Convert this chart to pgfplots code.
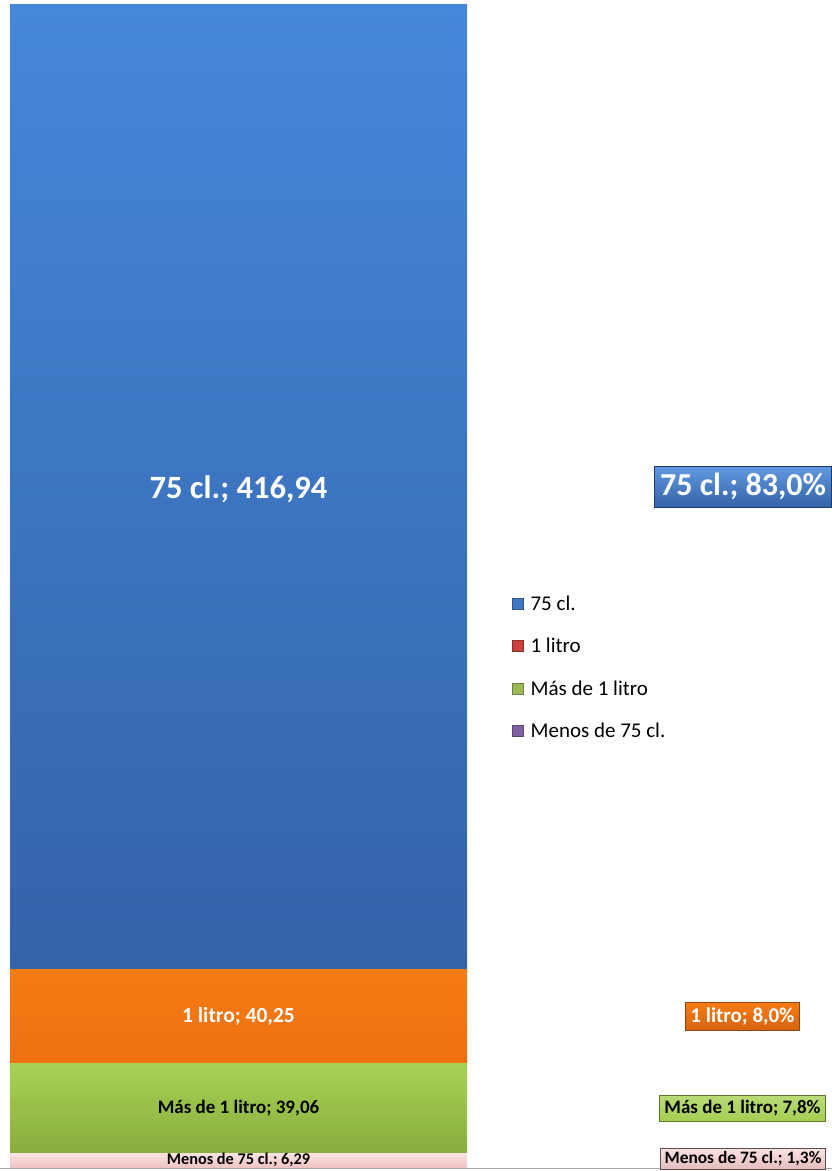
\documentclass[border=0pt]{standalone}
\usepackage{pgfplots}
\pgfplotsset{compat=1.18}
\usepackage{fontspec}
\setmainfont{Carlito}
\definecolor{blueT}{HTML}{4587D9}
\definecolor{blueB}{HTML}{3463A9}
\definecolor{orangeT}{HTML}{F57B14}
\definecolor{orangeB}{HTML}{EE7010}
\definecolor{greenT}{HTML}{A8D255}
\definecolor{greenB}{HTML}{87AD3D}
\definecolor{pinkT}{HTML}{FBE2E2}
\definecolor{pinkB}{HTML}{EFC2C2}
\definecolor{lgBlue}{HTML}{4177C4}
\definecolor{lgRed}{HTML}{CC3F3C}
\definecolor{lgGreen}{HTML}{9BBB59}
\definecolor{lgPurple}{HTML}{7E62A1}
\tikzset{
  lA/.style={/tikz/font=\fontsize{32.5}{39}\selectfont\bfseries, /tikz/text=white},
  lB/.style={/tikz/font=\fontsize{21.5}{26}\selectfont\bfseries, /tikz/text=white},
  lC/.style={/tikz/font=\fontsize{19}{23}\selectfont\bfseries, /tikz/text=black},
  lD/.style={/tikz/font=\fontsize{16.3}{20}\selectfont\bfseries, /tikz/text=black},
  pA/.style={/tikz/font=\fontsize{32}{38}\selectfont\bfseries, /tikz/text=white, /tikz/top color=blueT!85!white, /tikz/bottom color=blueB, /tikz/draw=blueB!60!black, /tikz/line width=1pt, /tikz/inner xsep=6pt, /tikz/inner ysep=7pt},
  pB/.style={/tikz/font=\fontsize{21}{25}\selectfont\bfseries, /tikz/text=white, /tikz/top color=orangeT, /tikz/bottom color=orangeB!90!black, /tikz/draw=orangeB!60!black, /tikz/line width=1pt, /tikz/inner xsep=5pt, /tikz/inner ysep=5pt},
  pC/.style={/tikz/font=\fontsize{19}{23}\selectfont\bfseries, /tikz/text=black, /tikz/top color=greenT!80!white, /tikz/bottom color=greenT!90!greenB, /tikz/draw=greenB!70!black, /tikz/line width=1pt, /tikz/inner xsep=5pt, /tikz/inner ysep=5pt},
  pD/.style={/tikz/font=\fontsize{17.4}{21}\selectfont\bfseries, /tikz/text=black, /tikz/top color=pinkT, /tikz/bottom color=pinkB!90!gray, /tikz/draw=pinkB!40!black, /tikz/line width=1pt, /tikz/inner xsep=4pt, /tikz/inner ysep=3.5pt},
}
\begin{document}
\begin{tikzpicture}
\pgfplotsset{
  base/.style={scale only axis, width=822pt, height=1163pt,
    xmin=0, xmax=822, ymin=0, ymax=502.54,
    at={(0pt,0pt)}, anchor=south west,
    xtick=\empty, ytick=\empty, clip=false},
  lab/.style 2 args={only marks, mark=text, forget plot, text mark={#1}, text mark as node=true, text mark style={/tikz/#2}},
}
\begin{axis}[base, axis lines=none, ybar stacked, bar width=457]
\addplot[draw=none, top color=pinkT, bottom color=pinkB] coordinates {(228.5,6.29)};
\addplot[draw=none, top color=greenT, bottom color=greenB] coordinates {(228.5,39.06)};
\addplot[draw=none, top color=orangeT, bottom color=orangeB] coordinates {(228.5,40.25)};
\addplot[draw=none, top color=blueT, bottom color=blueB] coordinates {(228.5,416.94)};
\end{axis}
\begin{axis}[base, axis x line=bottom, axis y line=none,
  x axis line style={-, draw=gray!70, line width=0.8pt, shorten <=-10pt, shorten >=-10pt},
  legend style={draw=none, fill=none, at={(rel axis cs:0.6107,0.4918)}, anchor=north west,
    font=\fontsize{21}{25}\selectfont, row sep=28.5pt, inner sep=0pt,
    nodes={inner sep=0pt, text height=14pt, text depth=0pt, anchor=west},
    /tikz/every odd column/.append style={column sep=7pt}},
  legend cell align=left,
  legend image code/.code={\draw[#1] (0pt,-5.5pt) rectangle (11pt,5.5pt);}]
% labels on the bar
\addplot[lab={75 cl.; 416,94}{lA}] coordinates {(228.5,293.4)};
\addplot[lab={1 litro; 40,25}{lB}] coordinates {(228.5,65.6)};
\addplot[lab={Más de 1 litro; 39,06}{lC}] coordinates {(228.5,25.9)};
\addplot[lab={Menos de 75 cl.; 6,29}{lD}] coordinates {(228.5,3.4)};
% percentage labels
\addplot[lab={75 cl.; 83,0\%}{pA}] coordinates {(733,294.3)};
\addplot[lab={1 litro; 8,0\%}{pB}] coordinates {(732.5,65.5)};
\addplot[lab={Más de 1 litro; 7,8\%}{pC}] coordinates {(732.5,25.9)};
\addplot[lab={Menos de 75 cl.; 1,3\%}{pD}] coordinates {(733,3.9)};
% legend
\addlegendimage{fill=lgBlue, draw=lgBlue!70!black}
\addlegendentry{75 cl.}
\addlegendimage{fill=lgRed, draw=lgRed!70!black}
\addlegendentry{1 litro}
\addlegendimage{fill=lgGreen, draw=lgGreen!70!black}
\addlegendentry{Más de 1 litro}
\addlegendimage{fill=lgPurple, draw=lgPurple!70!black}
\addlegendentry{Menos de 75 cl.}
\end{axis}
\pgfresetboundingbox
\useasboundingbox (-10pt,-3pt) rectangle (822pt,1168pt);
\end{tikzpicture}
\end{document}
